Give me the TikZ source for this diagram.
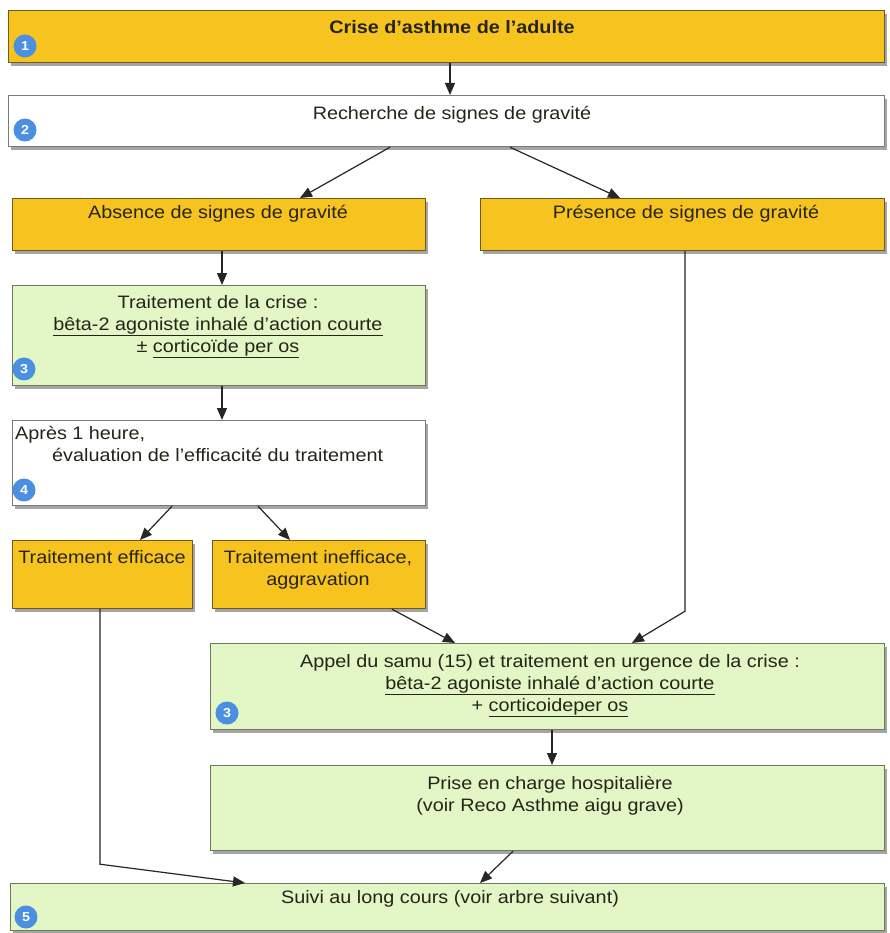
\documentclass[tikz,border=0pt]{standalone}
\usepackage{fontspec}
\setmainfont{Liberation Sans}[FakeStretch=1.1]
\usetikzlibrary{arrows.meta,shadows,calc}
\definecolor{orangeF}{HTML}{F7C31E}
\definecolor{orangeD}{HTML}{6E5A1E}
\definecolor{greenF}{HTML}{E3F6C6}
\definecolor{greenD}{HTML}{6D7A5A}
\definecolor{greyD}{HTML}{7A7A7A}
\definecolor{badgeC}{HTML}{4A8FE0}
\definecolor{txt}{HTML}{262418}
\tikzset{
  box/.style={rectangle, anchor=north west, inner sep=0pt, line width=1.2pt,
    drop shadow={shadow xshift=2pt, shadow yshift=-3.5pt, opacity=0.5, fill=black!70}},
  obox/.style={box, draw=orangeD, fill=orangeF},
  wbox/.style={box, draw=greyD, fill=white},
  gbox/.style={box, draw=greenD, fill=greenF},
  label/.style={anchor=north, inner sep=0pt, align=center, text=txt,
    font=\fontsize{18}{22}\selectfont},
  badge/.style={circle, fill=badgeC, text=white, inner sep=0pt, minimum size=23pt,
    font=\fontsize{13}{13}\selectfont\bfseries},
  arr/.style={draw=black!85, line width=1.2pt, -{Triangle[length=12pt,width=10pt]}}
}
\begin{document}
\begin{tikzpicture}[x=1pt,y=-1pt]
\path[use as bounding box, fill=white] (0,0) rectangle (889,933);

% boxes
\node[obox, minimum width=876pt, minimum height=52pt] (b1) at (8,10) {};
\node[wbox, minimum width=876pt, minimum height=51pt] (b2) at (8,95) {};
\node[obox, minimum width=413pt, minimum height=52pt] (b3) at (12,198) {};
\node[obox, minimum width=404pt, minimum height=52pt] (b4) at (480,198) {};
\node[gbox, minimum width=413pt, minimum height=100pt] (b5) at (12,285) {};
\node[wbox, minimum width=413pt, minimum height=85pt] (b6) at (12,420) {};
\node[obox, minimum width=180pt, minimum height=68pt] (b7) at (12,540) {};
\node[obox, minimum width=213pt, minimum height=68pt] (b8) at (212,540) {};
\node[gbox, minimum width=674pt, minimum height=86pt] (b9) at (210,643) {};
\node[gbox, minimum width=674pt, minimum height=85pt] (b10) at (210,765) {};
\node[gbox, minimum width=874pt, minimum height=47pt] (b11) at (10,883) {};

% texts
\node[label, font=\fontsize{18}{22}\selectfont\bfseries] (t1) at (452,20) {Crise d'asthme de l'adulte};
\node[label] (t2) at (452,106) {Recherche de signes de gravité};
\node[label] (t3) at (218,205) {Absence de signes de gravité};
\node[label] (t4) at (686,205) {Présence de signes de gravité};
\node[label] (t5) at (218,295) {Traitement de la crise :\\
  \underline{bêta-2 agoniste inhalé d'action courte}\\
  ± \underline{corticoïde per os}};
\node[label, anchor=north west, align=left] (t6) at (15,426) {Après 1 heure,\\
  \hspace{37pt}évaluation de l'efficacité du traitement};
\node[label] (t7) at (102,550) {Traitement efficace};
\node[label] (t8) at (318,550) {Traitement inefficace,\\aggravation};
\node[label] (t9) at (550,654) {Appel du samu (15) et traitement en urgence de la crise :\\
  \underline{bêta-2 agoniste inhalé d'action courte}\\
  + \underline{corticoideper os}};
\node[label] (t10) at (550,776) {Prise en charge hospitalière\\(voir Reco Asthme aigu grave)};
\node[label] (t11) at (450,890) {Suivi au long cours (voir arbre suivant)};

% badges
\node[badge] (n1) at (25,46) {1};
\node[badge] (n2) at (25,130) {2};
\node[badge] (n3) at (24,369) {3};
\node[badge] (n4) at (24,490) {4};
\node[badge] (n3b) at (227,713) {3};
\node[badge] (n5) at (26,917) {5};

% connectors
\draw[arr] ($(b1.south west)+(442,0)$) -- ($(b2.north west)+(442,0)$);
\draw[arr] ($(b2.south west)+(382,0)$) -- ($(b3.north west)+(288,0)$);
\draw[arr] ($(b2.south west)+(502,0)$) -- ($(b4.north west)+(140,0)$);
\draw[arr] ($(b3.south west)+(210,0)$) -- ($(b5.north west)+(210,0)$);
\draw[arr] ($(b5.south west)+(210,0)$) -- ($(b6.north west)+(210,0)$);
\draw[arr] ($(b6.south west)+(160,0)$) -- ($(b7.north west)+(128,0)$);
\draw[arr] ($(b6.south west)+(246,0)$) -- ($(b8.north west)+(78,0)$);
\draw[arr] ($(b8.south west)+(180,0)$) -- ($(b9.north west)+(245,0)$);
\draw[arr] ($(b4.south west)+(205,0)$) -- ++(0,360) -- ($(b9.north west)+(422,0)$);
\draw[arr] ($(b9.south west)+(342,0)$) -- ($(b10.north west)+(342,0)$);
\draw[arr] ($(b10.south west)+(303,0)$) -- ($(b11.north west)+(470,0)$);
\draw[arr] ($(b7.south west)+(88,0)$) -- ++(0,255) -- ($(b11.north west)+(235,0)$);
\end{tikzpicture}
\end{document}
